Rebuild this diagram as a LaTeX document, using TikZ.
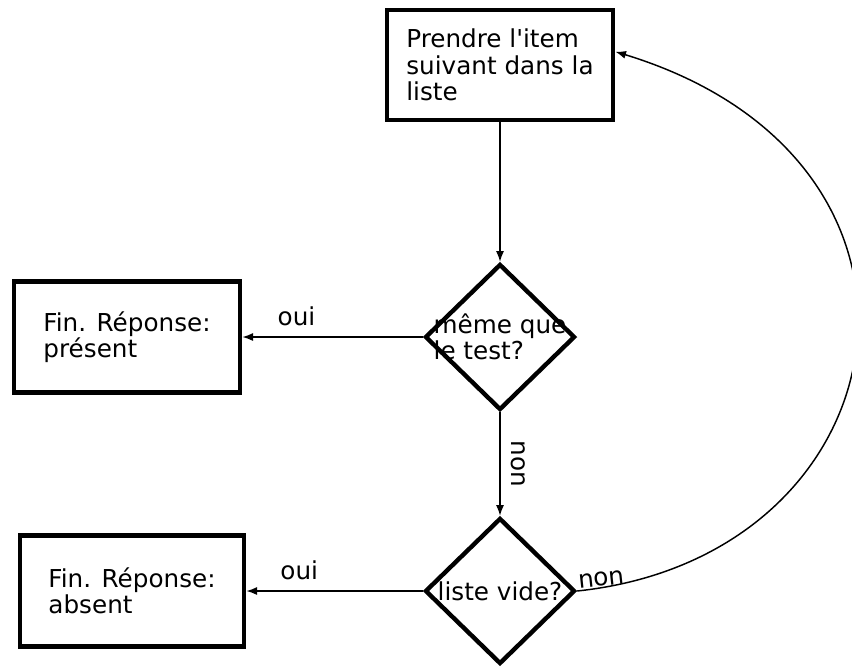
\documentclass[tikz,border=0pt]{standalone}
\usepackage{fontspec}
\newfontfamily\dejavu{DejaVu Sans}
\usetikzlibrary{shapes.geometric, arrows.meta}

\tikzset{
  boite/.style={draw, line width=3.5pt, rectangle, align=left, inner sep=0pt},
  decision/.style={draw, line width=3.3pt, diamond, minimum width=112.5pt, minimum height=109.5pt, inner sep=0pt},
  fleche/.style={line width=1.1pt, -{Latex[length=8pt, width=6pt]}},
  etiq/.style={inner sep=8pt},
}

\begin{document}
\begin{tikzpicture}[x=0.75pt, y=-0.75pt, every node/.style={font=\dejavu\fontsize{18.5}{19.8}\selectfont}]
\useasboundingbox (0,0) rectangle (852,668);

% Boîte de départ
\node[boite, minimum width=169.5pt, minimum height=82.5pt] (item) at (500,65) {Prendre l'item\\suivant dans la\\liste};

% Losanges de décision (le texte déborde, comme dans l'original)
\node[decision] (meme) at (500,337) {};
\node[align=left] (memetxt) at (meme) {même que\\le test?};
\node[decision] (vide) at (500,591) {};
\node (videtxt) at (vide) {liste vide?};

% Boîtes de fin
\node[boite, minimum width=169.5pt, minimum height=83pt] (present) at (127,337) {Fin. Réponse:\\présent};
\node[boite, minimum width=168pt, minimum height=83pt] (absent) at (132,591) {Fin. Réponse:\\absent};

% Flèches
\draw[fleche] (item) -- (meme);
\draw[fleche] (meme) -- node[etiq, midway, anchor=south, rotate=-90] {non} (vide);
\foreach \d/\b in {meme/present, vide/absent}
  \draw[fleche] (\d) -- node[etiq, pos=0.7, above] {oui} (\b);

% Retour vers le début
\draw[fleche] (vide.east) .. controls +(330,-35) and +(360,110) .. ([yshift=10pt]item.east)
  node[pos=0, anchor=south west, sloped, inner sep=1pt] {non};

\end{tikzpicture}
\end{document}
